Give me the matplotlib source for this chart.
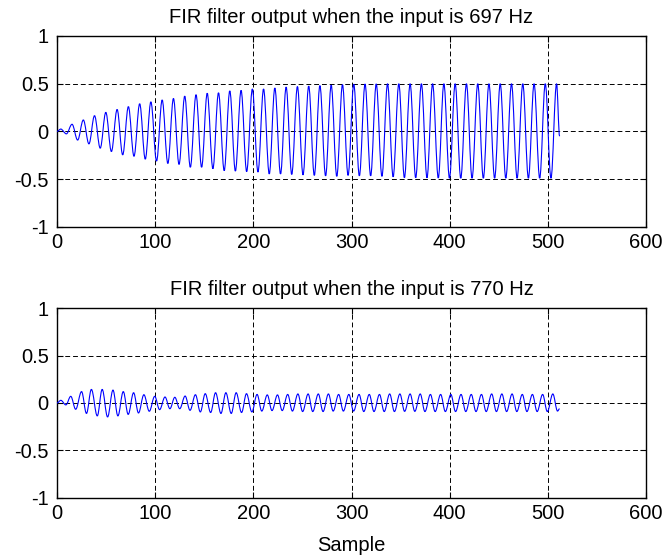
import numpy as np
import matplotlib.pyplot as plt
from matplotlib.path import Path
from matplotlib.patches import PathPatch

plt.rcParams['font.family'] = ['Liberation Sans', 'DejaVu Sans']
plt.rcParams['axes.unicode_minus'] = False

# 697 Hz input: sample index and value of each peak / trough
top_peak_x = [3.8, 15.3, 26.8, 38.2, 49.7, 61.2, 72.7, 84.2, 95.6, 107.1, 118.6, 130.1,
              141.6, 153.0, 164.5, 176.0, 187.5, 199.0, 210.4, 221.9, 233.4, 244.9, 256.4,
              267.8, 279.3, 290.8, 302.3, 313.8, 325.2, 336.7, 348.2, 359.7, 371.2, 382.6,
              394.1, 405.6, 417.1, 428.6, 440.0, 451.5, 463.0, 474.5, 486.0, 497.4, 508.9]
top_peak_y = [0.025, 0.075, 0.12, 0.165, 0.20, 0.23, 0.26, 0.29, 0.31, 0.33, 0.345, 0.37,
              0.385, 0.40, 0.405, 0.425, 0.43, 0.445, 0.445, 0.455, 0.465, 0.47, 0.475,
              0.48, 0.485, 0.49, 0.495, 0.497, 0.498, 0.5, 0.5, 0.5, 0.5, 0.5,
              0.5, 0.5, 0.5, 0.5, 0.5, 0.5, 0.5, 0.5, 0.5, 0.5, 0.5]
top_trough_x = [9.5, 21.0, 32.5, 44.0, 55.4, 66.9, 78.4, 89.9, 101.4, 112.9, 124.3, 135.8,
                147.3, 158.8, 170.3, 181.7, 193.2, 204.7, 216.2, 227.7, 239.1, 250.6, 262.1,
                273.6, 285.0, 296.5, 308.0, 319.5, 331.0, 342.4, 353.9, 365.4, 376.9, 388.4,
                399.8, 411.3, 422.8, 434.3, 445.8, 457.2, 468.7, 480.2, 491.7, 503.2]
top_trough_y = [-0.025, -0.09, -0.13, -0.175, -0.21, -0.245, -0.26, -0.29, -0.31, -0.335, -0.345, -0.375,
                -0.375, -0.39, -0.41, -0.415, -0.42, -0.425, -0.445, -0.445, -0.45, -0.455, -0.46,
                -0.465, -0.47, -0.46, -0.465, -0.465, -0.47, -0.475, -0.485, -0.485, -0.485, -0.487,
                -0.49, -0.49, -0.49, -0.49, -0.49, -0.49, -0.49, -0.49, -0.49, -0.49]
top_ends_x = [0, 512]
top_ends_y = [0.0, -0.05]

# 770 Hz input
bot_peak_x = [3.9, 14.0, 25.0, 35.0, 46.0, 57.0, 67.5, 78.0, 88.5, 99.5, 110.0, 120.0,
              130.5, 141.0, 151.0, 161.5, 172.0, 182.5, 193.0, 203.8, 214.2, 224.6, 235.0,
              245.4, 255.8, 266.2, 276.5, 286.9, 297.3, 307.7, 318.1, 328.5, 338.9, 349.3,
              359.7, 370.0, 380.4, 390.8, 401.2, 411.6, 422.0, 432.4, 442.8, 453.2, 463.6,
              474.0, 484.3, 494.7, 505.1]
bot_peak_y = [0.028, 0.07, 0.12, 0.143, 0.143, 0.136, 0.12, 0.108, 0.087, 0.07, 0.063, 0.06,
              0.073, 0.087, 0.098, 0.108, 0.108, 0.108, 0.098, 0.09, 0.085, 0.085, 0.09,
              0.095, 0.095, 0.095, 0.095, 0.09, 0.09, 0.09, 0.09, 0.09, 0.095, 0.095,
              0.095, 0.095, 0.09, 0.09, 0.09, 0.09, 0.09, 0.09, 0.095, 0.095, 0.095,
              0.09, 0.09, 0.09, 0.095]
bot_trough_x = [9.0, 19.0, 30.0, 41.0, 51.5, 62.0, 72.5, 83.0, 94.0, 104.5, 115.0, 125.0,
                135.5, 146.0, 156.5, 167.0, 177.5, 188.0, 198.5, 208.6, 219.0, 229.4, 239.8,
                250.2, 260.5, 271.0, 281.3, 291.7, 302.1, 312.5, 322.9, 333.3, 343.7, 354.1,
                364.5, 374.8, 385.2, 395.6, 406.0, 416.4, 426.8, 437.2, 447.6, 458.0, 468.4,
                478.7, 489.1, 499.5, 509.9]
bot_trough_y = [-0.02, -0.066, -0.11, -0.136, -0.147, -0.136, -0.12, -0.105, -0.087, -0.07, -0.06, -0.06,
                -0.077, -0.094, -0.10, -0.11, -0.11, -0.10, -0.094, -0.085, -0.08, -0.08, -0.085,
                -0.09, -0.09, -0.09, -0.085, -0.085, -0.085, -0.09, -0.09, -0.09, -0.09, -0.088,
                -0.088, -0.09, -0.09, -0.09, -0.09, -0.09, -0.09, -0.09, -0.09, -0.09, -0.09,
                -0.09, -0.09, -0.09, -0.085]
bot_ends_x = [0, 512]
bot_ends_y = [0.0, -0.06]

titles = ['FIR filter output when the input is 697 Hz',
          'FIR filter output when the input is 770 Hz']
xticks = [0, 100, 200, 300, 400, 500, 600]
yticks = [-1, -0.5, 0, 0.5, 1]
ytick_labels = ['-1', '-0.5', '0', '0.5', '1']


def wave_path(px, py, tx, ty, ex, ey):
    # join the extremes with smooth half-cycle curves (flat at every peak/trough)
    x = np.array(list(px) + list(tx) + list(ex), dtype=float)
    y = np.array(list(py) + list(ty) + list(ey), dtype=float)
    order = np.argsort(x)
    x, y = x[order], y[order]
    k = 0.3634
    verts = [(x[0], y[0])]
    codes = [Path.MOVETO]
    for i in range(len(x) - 1):
        dx = x[i + 1] - x[i]
        verts += [(x[i] + k * dx, y[i]), (x[i + 1] - k * dx, y[i + 1]), (x[i + 1], y[i + 1])]
        codes += [Path.CURVE4] * 3
    return Path(verts, codes)


fig = plt.figure(figsize=(6.67, 5.57), dpi=100)
ax1 = fig.add_axes([0.0855, 0.5925, 0.883, 0.343])
ax2 = fig.add_axes([0.0855, 0.106, 0.883, 0.341])

paths = [wave_path(top_peak_x, top_peak_y, top_trough_x, top_trough_y, top_ends_x, top_ends_y),
         wave_path(bot_peak_x, bot_peak_y, bot_trough_x, bot_trough_y, bot_ends_x, bot_ends_y)]

for ax, p, t in zip([ax1, ax2], paths, titles):
    ax.add_patch(PathPatch(p, fill=False, edgecolor='#0000ff', linewidth=0.8, zorder=3))
    ax.set_xlim(0, 600)
    ax.set_ylim(-1, 1)
    ax.set_xticks(xticks)
    ax.set_yticks(yticks)
    ax.set_yticklabels(ytick_labels)
    ax.grid(True, linestyle=(0, (5, 3)), color='k', linewidth=0.7)
    ax.tick_params(direction='in', top=True, right=True, length=4, labelsize=14.5)
    ax.tick_params(axis='x', pad=4)
    ax.tick_params(axis='y', pad=6)
    for s in ax.spines.values():
        s.set_linewidth(1.0)
    ax.set_title(t, fontsize=14.5, pad=9.5)

ax2.set_xlabel('Sample', fontsize=14.5, labelpad=10)

fig.savefig('out.png', dpi=100)
